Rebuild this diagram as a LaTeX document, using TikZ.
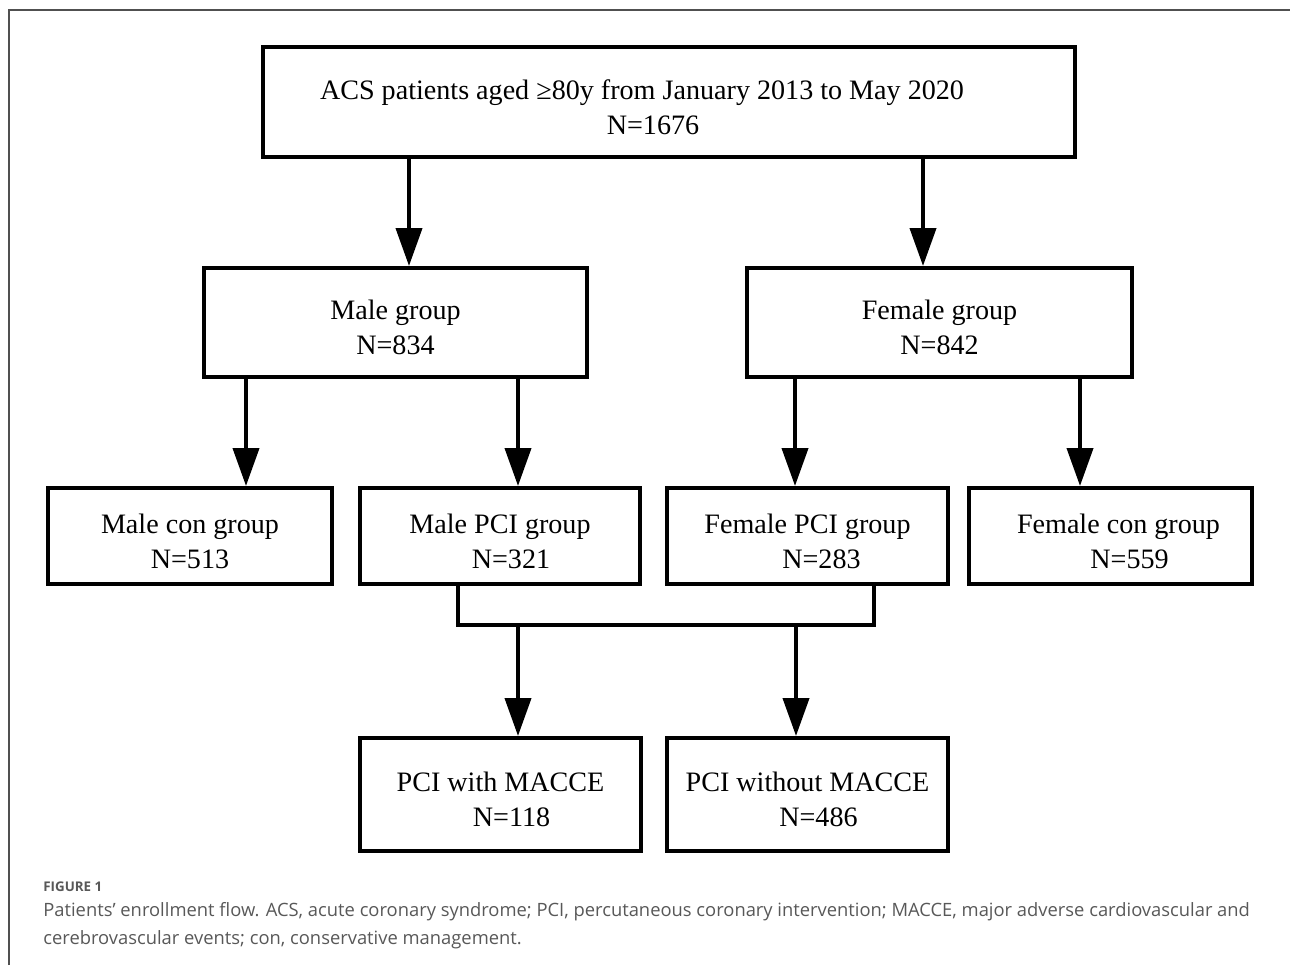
\documentclass[tikz,border=0pt]{standalone}
\usepackage{fontspec}
\setmainfont{Liberation Serif}
\newfontfamily\capfont{Open Sans}
\usetikzlibrary{arrows.meta, calc}
\definecolor{capgray}{RGB}{88,88,88}
\definecolor{framegray}{RGB}{80,80,80}
\tikzstyle{box} = [rectangle, draw=black, line width=2.3pt, align=center, inner sep=0, font=\fontsize{16}{20}\selectfont, execute at begin node={\rule{0pt}{37pt}}]
\tikzstyle{line} = [line width=2.3pt]
\tikzstyle{arrow} = [line width=2.3pt, -{Triangle[length=0.76cm, width=0.52cm]}]

\begin{document}
\begin{tikzpicture}[x=0.02cm, y=-0.02cm]
	\useasboundingbox (0,0) rectangle (1290,965);
	\draw[framegray, line width=1.1pt] (9,965) -- (9,10) -- (1290,10);
	% boxes
	\node[box, minimum width=16.24cm, minimum height=2.2cm] (acs) at (669,102) {ACS patients aged ≥80y from January 2013 to May 2020\hspace*{1.08cm}\\N=1676\hspace*{0.64cm}};
	\node[box, minimum width=7.66cm, minimum height=2.18cm] (male) at (395.5,322.5) {Male group\\N=834};
	\node[box, minimum width=7.7cm, minimum height=2.18cm] (female) at (939.5,322.5) {Female group\\N=842};
	\node[box, minimum width=5.68cm, minimum height=1.92cm] (mcon) at (190,536) {Male con group\\N=513};
	\node[box, minimum width=5.6cm, minimum height=1.92cm] (mpci) at (500,536) {Male PCI group\\\hspace*{0.44cm}N=321};
	\node[box, minimum width=5.62cm, minimum height=1.92cm] (fpci) at (807.5,536) {Female PCI group\\\hspace*{0.56cm}N=283};
	\node[box, minimum width=5.66cm, minimum height=1.92cm] (fcon) at (1110.5,536) {\hspace*{0.32cm}Female con group\\\hspace*{0.76cm}N=559};
	\node[box, minimum width=5.62cm, minimum height=2.26cm] (with) at (500.5,794.5) {PCI with MACCE\\\hspace*{0.44cm}N=118};
	\node[box, minimum width=5.62cm, minimum height=2.26cm] (without) at (807.5,794.5) {PCI without MACCE\\\hspace*{0.44cm}N=486};
	% arrows
	\coordinate (a1) at (409,0);
	\coordinate (a2) at (923,0);
	\coordinate (b1) at (246,0);
	\coordinate (b2) at (518,0);
	\coordinate (b3) at (795,0);
	\coordinate (b4) at (1080,0);
	\draw[arrow] (acs.south -| a1) -- (male.north -| a1);
	\draw[arrow] (acs.south -| a2) -- (female.north -| a2);
	\draw[arrow] (male.south -| b1) -- (mcon.north -| b1);
	\draw[arrow] (male.south -| b2) -- (mpci.north -| b2);
	\draw[arrow] (female.south -| b3) -- (fpci.north -| b3);
	\draw[arrow] (female.south -| b4) -- (fcon.north -| b4);
	% PCI groups joined
	\coordinate (jl) at (458,625);
	\coordinate (jr) at (874,625);
	\coordinate (j1) at (518,625);
	\coordinate (j2) at (796,625);
	\draw[line] (mpci.south -| jl) -- (jl) -- (jr) -- (fpci.south -| jr);
	\draw[arrow] (j1) -- (with.north -| j1);
	\draw[arrow] (j2) -- (without.north -| j2);
	% caption
	\node[anchor=base west, inner sep=0, text=capgray, font=\capfont\bfseries\fontsize{7.6}{8}\selectfont] (fig) at (43,891) {FIGURE 1};
	\node[anchor=base west, inner sep=0, align=left, text=capgray, font=\capfont\fontsize{10.45}{15.9}\selectfont] (cap) at (43,944) {Patients’ enrollment flow. ACS, acute coronary syndrome; PCI, percutaneous coronary intervention; MACCE, major adverse cardiovascular and\\cerebrovascular events; con, conservative management.};
\end{tikzpicture}
\end{document}
